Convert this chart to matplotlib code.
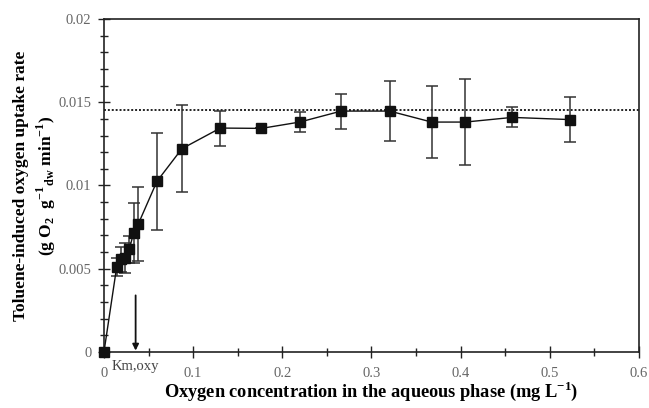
import numpy as np
import matplotlib.pyplot as plt
from matplotlib.ticker import MultipleLocator

plt.rcParams['font.family'] = ['Liberation Serif', 'DejaVu Serif']
plt.rcParams['mathtext.fontset'] = 'custom'
plt.rcParams['mathtext.rm'] = 'Liberation Serif'
plt.rcParams['mathtext.bf'] = 'Liberation Serif:bold'

# oxygen concentration (mg/L) vs toluene-induced oxygen uptake rate
o2_conc = [0.0, 0.0142, 0.0186, 0.0235, 0.0284, 0.0333, 0.0385, 0.0594, 0.0874,
           0.1305, 0.1765, 0.2195, 0.2661, 0.3204, 0.3675, 0.4052, 0.4579, 0.5222]
uptake = [0.0, 0.00509, 0.00557, 0.00567, 0.00617, 0.00717, 0.00769, 0.01025, 0.01221,
          0.01345, 0.01343, 0.01381, 0.01447, 0.01447, 0.01381, 0.01381, 0.01409, 0.01396]
uptake_err = [0.0, 0.00055, 0.00075, 0.0009, 0.0008, 0.0018, 0.0022, 0.0029, 0.0026,
              0.00105, 0.0, 0.0006, 0.00105, 0.0018, 0.00217, 0.0026, 0.0006, 0.00137]
v_max = 0.01452
km_oxy = 0.0355

fig = plt.figure(figsize=(6.49, 4.08), dpi=100)
ax = fig.add_axes([0.1602, 0.1373, 0.8244, 0.8161])

ax.errorbar(o2_conc, uptake, yerr=uptake_err, fmt='none', ecolor='#333333',
            elinewidth=1.1, capsize=4, capthick=1.1, zorder=2)
ax.plot(o2_conc, uptake, '-', color='#111111', lw=1.0, marker='s', ms=6.5,
        mfc='#111111', mec='#111111', zorder=3, clip_on=False)
ax.axhline(v_max, color='#222222', lw=1.4, ls=(0, (1, 1)), zorder=1)

# arrow marking the half-saturation constant
ax.annotate('', xy=(km_oxy, 0.0), xytext=(km_oxy, 0.0034),
            arrowprops=dict(arrowstyle='-|>', color='#111111', lw=1.3,
                            mutation_scale=9, shrinkA=0, shrinkB=1))
ax.text(km_oxy, -0.0005, 'Km,oxy', ha='center', va='top', fontsize=10.5,
        color='#444444', clip_on=False)

ax.set_xlim(0, 0.6)
ax.set_ylim(0, 0.02)
ax.xaxis.set_minor_locator(MultipleLocator(0.05))
ax.yaxis.set_minor_locator(MultipleLocator(0.001))
ax.set_xticks([0, 0.1, 0.2, 0.3, 0.4, 0.5, 0.6])
ax.set_xticklabels(['0', '0.1', '0.2', '0.3', '0.4', '0.5', '0.6'])
ax.set_yticks([0, 0.005, 0.01, 0.015, 0.02])
ax.set_yticklabels(['0', '0.005', '0.01', '0.015', '0.02'])

ax.tick_params(which='both', direction='inout', color='#222222', width=1.0,
               labelsize=10.5, labelcolor='#666666', top=False, right=False)
ax.tick_params(which='major', length=8)
ax.tick_params(which='minor', length=6)
ax.tick_params(axis='y', which='major', pad=5)
ax.tick_params(axis='x', which='major', pad=7)
for sp in ax.spines.values():
    sp.set_linewidth(1.2)
    sp.set_color('#222222')

ax.set_xlabel('Oxygen concentration in the aqueous phase (mg L$^{\\mathbf{-1}}$)',
              fontsize=13.2, fontweight='bold', labelpad=0)
fig.text(0.032, 0.545, 'Toluene-induced oxygen uptake rate', rotation=90,
         ha='center', va='center', fontsize=12.5, fontweight='bold')
fig.text(0.071, 0.545, '(g O$_\\mathbf{2}$  g$^{\\mathbf{-1}}$$_{\\mathbf{dw}}$ min$^{\\mathbf{-1}}$)',
         rotation=90, ha='center', va='center', fontsize=12.5, fontweight='bold')

fig.savefig('out.png', dpi=100)
